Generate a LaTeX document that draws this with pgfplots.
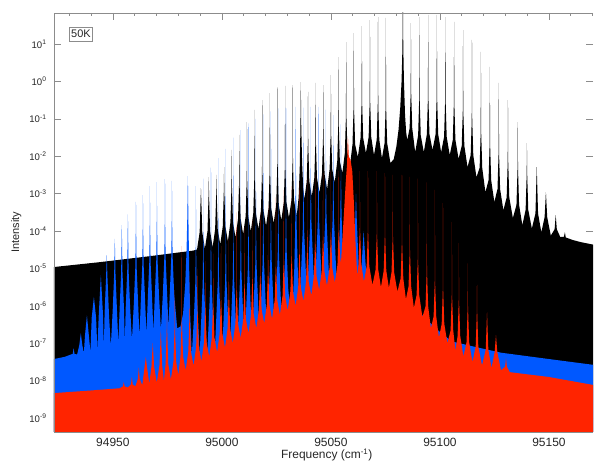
\documentclass[border=0pt]{standalone}
\usepackage{fontspec}
\setmainfont{Liberation Sans}
\usepackage{pgfplots}
\pgfplotsset{compat=1.18}
\definecolor{specblue}{RGB}{0,88,255}
\definecolor{specred}{RGB}{255,36,0}
\definecolor{axisgray}{RGB}{140,140,140}
\begin{document}
\begin{tikzpicture}
\useasboundingbox (-54bp,-30bp) rectangle (541bp,432bp);
\begin{axis}[
    at={(0,0)}, anchor=south west,
    scale only axis, width=539bp, height=419bp,
    xmin=94923, xmax=95170.2,
    ymin=-9.37, ymax=1.83,
    axis line style={draw=none},
    scaled x ticks=false,
    xtick={94950,95000,95050,95100,95150},
    xticklabels={94950,95000,95050,95100,95150},
    minor xtick={94930,94940,94960,94970,94980,94990,95010,95020,95030,95040,95060,95070,95080,95090,95110,95120,95130,95140,95160,95170},
    ytick={-9,-8,-7,-6,-5,-4,-3,-2,-1,0,1},
    yticklabels={10\textsuperscript{-9},10\textsuperscript{-8},10\textsuperscript{-7},10\textsuperscript{-6},10\textsuperscript{-5},10\textsuperscript{-4},10\textsuperscript{-3},10\textsuperscript{-2},10\textsuperscript{-1},10\textsuperscript{0},10\textsuperscript{1}},
    tick align=inside,
    major tick length=7bp, minor tick length=3.5bp,
    tick style={axisgray, line width=0.6pt},
    xticklabel style={font=\fontsize{12}{14}\selectfont, text=black!85, yshift=-3bp},
    yticklabel style={font=\fontsize{9.6}{11}\selectfont, text=black!85, xshift=-4bp},
    xlabel={Frequency (cm\textsuperscript{-1})},
    ylabel={Intensity},
    xlabel style={font=\fontsize{12}{14}\selectfont, text=black!85, at={(axis description cs:0.506,-0.055)}, anchor=center},
    ylabel style={font=\fontsize{11}{13}\selectfont, text=black!85, at={(axis description cs:-0.07,0.477)}, anchor=center},
]

% black spectrum (y = log10 intensity)
\addplot[fill=black, draw=none] coordinates {
(94923,-10) (94923,-4.96) (94944,-4.83) (94967,-4.67) (94987,-4.52) (94988.6,-4.49)
(94989.8,-4.03) (94990.4,-2.85) (94991.0,-4.03) (94992.2,-4.47)
(94993.4,-4.0) (94993.88,-3.05) (94994.0,-2.56) (94994.12,-3.05) (94994.6,-4.0) (94995.75,-4.43)
(94996.9,-3.95) (94997.38,-3.0) (94997.5,-2.50) (94997.62,-3.0) (94998.1,-3.95) (94999.25,-4.36)
(95000.4,-3.87) (95000.88,-2.92) (95001.0,-2.29) (95001.12,-2.92) (95001.6,-3.87) (95002.75,-4.27)
(95003.9,-3.77) (95004.38,-2.82) (95004.5,-1.83) (95004.62,-2.82) (95005.1,-3.77) (95006.25,-4.17)
(95007.4,-3.67) (95007.88,-2.72) (95008.0,-1.43) (95008.12,-2.72) (95008.6,-3.67) (95009.75,-4.08)
(95010.9,-3.60) (95011.38,-2.65) (95011.5,-1.09) (95011.62,-2.65) (95012.1,-3.60) (95013.25,-4.01)
(95014.4,-3.52) (95014.88,-2.57) (95015.0,-0.76) (95015.12,-2.57) (95015.6,-3.52) (95016.75,-3.94)
(95017.9,-3.45) (95018.38,-2.50) (95018.5,-0.50) (95018.62,-2.50) (95019.1,-3.45) (95020.25,-3.86)
(95021.4,-3.38) (95021.88,-2.43) (95022.0,-0.31) (95022.12,-2.43) (95022.6,-3.38) (95023.75,-3.79)
(95024.9,-3.30) (95025.38,-2.35) (95025.5,-0.15) (95025.62,-2.35) (95026.1,-3.30) (95027.25,-3.71)
(95028.4,-3.22) (95028.88,-2.27) (95029.0,-0.12) (95029.12,-2.27) (95029.6,-3.22) (95030.75,-3.64)
(95031.9,-3.17) (95032.38,-2.22) (95032.5,-0.10) (95032.62,-2.22) (95033.1,-3.17) (95034.3,-3.60)
(95035.2,-3.1) (95035.7,-2.3) (95036.0,-1.3) (95036.2,-0.02) (95036.4,-1.2) (95036.8,-2.2) (95037.3,-2.85) (95037.85,-3.15)
(95038.9,-2.67) (95039.38,-1.72) (95039.5,-0.28) (95039.62,-1.72) (95040.1,-2.67) (95041.25,-3.07)
(95042.4,-2.57) (95042.88,-1.62) (95043.0,-0.04) (95043.12,-1.62) (95043.6,-2.57) (95044.75,-2.97)
(95045.9,-2.48) (95046.38,-1.53) (95046.5,-0.10) (95046.62,-1.53) (95047.1,-2.48) (95048.25,-2.88)
(95049.4,-2.35) (95049.88,-1.40) (95050.0,0.17) (95050.12,-1.40) (95050.6,-2.35) (95051.75,-2.70)
(95052.9,-2.13) (95053.38,-1.18) (95053.5,0.65) (95053.62,-1.18) (95054.1,-2.13) (95055.25,-2.45)
(95056.4,-1.90) (95056.88,-0.95) (95057.0,1.05) (95057.12,-0.95) (95057.6,-1.90) (95058.75,-2.25)
(95059.9,-1.68) (95060.38,-0.73) (95060.5,1.29) (95060.62,-0.73) (95061.1,-1.68) (95062.35,-2.02)
(95063.6,-1.51) (95064.08,-0.56) (95064.2,1.48) (95064.32,-0.56) (95064.8,-1.51) (95066.05,-1.91)
(95067.3,-1.49) (95067.78,-0.54) (95067.9,1.64) (95068.02,-0.54) (95068.5,-1.49) (95069.75,-1.97)
(95071.0,-1.56) (95071.48,-0.61) (95071.6,1.72) (95071.72,-0.61) (95072.2,-1.56) (95073.4,-2.05)
(95074.6,-1.65) (95075.08,-0.70) (95075.2,1.70) (95075.32,-0.70) (95075.8,-1.65) (95077.3,-2.18)
(95078.8,-2.08) (95080.0,-1.75) (95081.0,-1.3) (95081.8,-0.7) (95082.4,0.0) (95082.8,0.9) (95083.0,2.4) (95083.2,0.9) (95083.5,0.0) (95084.0,-0.9) (95084.5,-1.35) (95085.0,-1.57)
(95086.1,-1.25) (95086.58,-0.30) (95086.7,1.56) (95086.82,-0.30) (95087.3,-1.25) (95088.65,-1.89)
(95090.0,-1.44) (95090.48,-0.49) (95090.6,1.72) (95090.72,-0.49) (95091.2,-1.44) (95092.6,-1.89)
(95094.0,-1.41) (95094.48,-0.46) (95094.6,1.78) (95094.72,-0.46) (95095.2,-1.41) (95096.6,-1.83)
(95098.0,-1.41) (95098.48,-0.46) (95098.6,1.78) (95098.72,-0.46) (95099.2,-1.41) (95100.55,-1.89)
(95101.9,-1.48) (95102.38,-0.53) (95102.5,1.72) (95102.62,-0.53) (95103.1,-1.48) (95104.5,-1.97)
(95105.9,-1.56) (95106.38,-0.61) (95106.5,1.59) (95106.62,-0.61) (95107.1,-1.56) (95108.55,-2.07)
(95110.0,-1.72) (95110.48,-0.77) (95110.6,1.37) (95110.72,-0.77) (95111.2,-1.72) (95112.65,-2.29)
(95114.1,-1.97) (95114.58,-1.02) (95114.7,1.11) (95114.82,-1.02) (95115.3,-1.97) (95116.75,-2.56)
(95118.2,-2.31) (95118.68,-1.36) (95118.8,0.79) (95118.92,-1.36) (95119.4,-2.31) (95120.85,-2.96)
(95122.3,-2.64) (95122.78,-1.69) (95122.9,0.39) (95123.02,-1.69) (95123.5,-2.64) (95124.95,-3.22)
(95126.4,-2.88) (95126.88,-1.93) (95127.0,-0.04) (95127.12,-1.93) (95127.6,-2.88) (95129.1,-3.44)
(95130.6,-3.10) (95131.08,-2.15) (95131.2,-0.50) (95131.32,-2.15) (95131.8,-3.10) (95133.45,-3.65)
(95135.1,-3.30) (95135.58,-2.35) (95135.7,-1.09) (95135.82,-2.35) (95136.3,-3.30) (95137.8,-3.84)
(95139.3,-3.43) (95139.78,-2.48) (95139.9,-1.65) (95140.02,-2.48) (95140.5,-3.43) (95142.15,-3.93)
(95143.8,-3.53) (95144.4,-2.29) (95145.0,-3.53) (95146.5,-4.03)
(95148.0,-3.63) (95148.6,-2.96) (95149.2,-3.63) (95150.85,-4.12)
(95152.6,-3.95) (95153.1,-3.57) (95153.6,-3.95) (95155.2,-4.16)
(95156.9,-4.15) (95157.3,-4.03) (95157.7,-4.17) (95161,-4.24) (95165,-4.30) (95171,-4.37) (95171,-10)
};

% blue spectrum
\addplot[fill=specblue, draw=none] coordinates {
(94923,-10) (94923,-7.42) (94928,-7.36)
(94931.6,-7.28) (94932.0,-7.13) (94932.4,-7.28) (94933.6,-7.30)
(94934.6,-7.05) (94935.3,-6.73) (94936.0,-7.05) (94936.7,-7.26)
(94937.2,-6.80) (94938.1,-6.25) (94939.0,-6.80) (94939.7,-7.23)
(94940.3,-6.31) (94941.3,-5.76) (94942.3,-6.31) (94942.9,-7.19)
(94943.5,-6.27) (94944.5,-5.18) (94945.5,-6.27) (94945.85,-7.14)
(94946.2,-6.21) (94946.9,-5.21) (94947.2,-4.64) (94947.5,-5.21) (94948.2,-6.21) (94949.05,-7.08)
(94949.9,-6.14) (94950.6,-5.14) (94950.9,-4.21) (94951.2,-5.14) (94951.9,-6.14) (94952.5,-7.01)
(94953.1,-6.08) (94953.8,-5.08) (94954.1,-3.84) (94954.4,-5.08) (94955.1,-6.08) (94955.5,-6.95)
(94955.9,-6.03) (94956.6,-5.03) (94956.9,-3.55) (94957.2,-5.03) (94957.9,-6.03) (94958.75,-6.90)
(94959.6,-5.96) (94960.3,-4.96) (94960.54,-3.86) (94960.6,-3.22) (94960.66,-3.86) (94960.9,-4.96) (94961.6,-5.96) (94962.2,-6.82)
(94962.8,-5.89) (94963.5,-4.89) (94963.74,-3.79) (94963.8,-3.04) (94963.86,-3.79) (94964.1,-4.89) (94964.8,-5.89) (94965.4,-6.76)
(94966.0,-5.83) (94966.7,-4.83) (94966.94,-3.73) (94967.0,-2.80) (94967.06,-3.73) (94967.3,-4.83) (94968.0,-5.83) (94968.6,-6.70)
(94969.2,-5.78) (94969.9,-4.78) (94970.14,-3.68) (94970.2,-2.69) (94970.26,-3.68) (94970.5,-4.78) (94971.2,-5.78) (94972.05,-6.64)
(94972.9,-5.71) (94973.6,-4.71) (94973.84,-3.61) (94973.9,-2.61) (94973.96,-3.61) (94974.2,-4.71) (94974.9,-5.71) (94975.5,-6.58)
(94976.1,-5.67) (94976.8,-4.67) (94977.04,-3.57) (94977.1,-2.66) (94977.16,-3.57) (94977.4,-4.67) (94978.1,-5.67) (94979.5,-6.60)
(94981.0,-6.55) (94982.2,-6.2) (94983.2,-5.4) (94983.8,-4.5) (94984.15,-3.6) (94984.4,-2.53) (94984.65,-3.7) (94985.0,-5.0) (94985.5,-6.3) (94986.2,-7.30)
(94987.1,-6.4) (94987.8,-5.4) (94988.04,-4.3) (94988.1,-2.8) (94988.16,-4.3) (94988.4,-5.4) (94989.1,-6.4) (94989.8,-7.30)
(94990.5,-6.4) (94991.2,-5.4) (94991.44,-4.3) (94991.5,-2.6) (94991.56,-4.3) (94991.8,-5.4) (94992.5,-6.4) (94993.25,-7.29)
(94994.0,-6.38) (94994.7,-5.38) (94994.94,-4.28) (94995.0,-2.3) (94995.06,-4.28) (94995.3,-5.38) (94996.0,-6.38) (94996.7,-7.27)
(94997.4,-6.36) (94998.1,-5.36) (94998.34,-4.26) (94998.4,-2.05) (94998.46,-4.26) (94998.7,-5.36) (94999.4,-6.36) (95000.1,-7.25)
(95000.8,-6.33) (95001.5,-5.33) (95001.74,-4.23) (95001.8,-1.8) (95001.86,-4.23) (95002.1,-5.33) (95002.8,-6.33) (95003.55,-7.20)
(95004.3,-6.27) (95005.0,-5.27) (95005.24,-4.17) (95005.3,-1.5) (95005.36,-4.17) (95005.6,-5.27) (95006.3,-6.27) (95007.0,-7.12)
(95007.7,-6.15) (95008.4,-5.15) (95008.64,-4.05) (95008.7,-1.3) (95008.76,-4.05) (95009.0,-5.15) (95009.7,-6.15) (95010.45,-6.98)
(95011.2,-6.0) (95011.9,-5.0) (95012.14,-3.9) (95012.2,-1.12) (95012.26,-3.9) (95012.5,-5.0) (95013.2,-6.0) (95013.9,-6.85)
(95014.6,-5.91) (95015.3,-4.91) (95015.54,-3.81) (95015.6,-1.0) (95015.66,-3.81) (95015.9,-4.91) (95016.6,-5.91) (95017.3,-6.77)
(95018.0,-5.82) (95018.7,-4.82) (95018.94,-3.72) (95019.0,-0.88) (95019.06,-3.72) (95019.3,-4.82) (95020.0,-5.82) (95020.75,-6.68)
(95021.5,-5.74) (95022.2,-4.74) (95022.44,-3.64) (95022.5,-0.8) (95022.56,-3.64) (95022.8,-4.74) (95023.5,-5.74) (95024.2,-6.60)
(95024.9,-5.65) (95025.6,-4.65) (95025.84,-3.55) (95025.9,-0.72) (95025.96,-3.55) (95026.2,-4.65) (95026.9,-5.65) (95027.65,-6.50)
(95028.4,-5.52) (95029.1,-4.52) (95029.34,-3.42) (95029.4,-0.70) (95029.46,-3.42) (95029.7,-4.52) (95030.4,-5.52) (95031.6,-6.30)
(95032.6,-5.8) (95033.2,-5.0) (95033.6,-4.0) (95033.8,-2.8) (95033.9,-0.68) (95034.0,-2.8) (95034.3,-3.9) (95034.8,-5.0) (95035.4,-5.7) (95035.65,-5.90)
(95036.4,-4.95) (95037.1,-3.95) (95037.34,-2.85) (95037.4,-0.70) (95037.46,-2.85) (95037.7,-3.95) (95038.4,-4.95) (95039.1,-5.78)
(95039.8,-4.8) (95040.5,-3.8) (95040.74,-2.7) (95040.8,-0.68) (95040.86,-2.7) (95041.1,-3.8) (95041.8,-4.8) (95042.55,-5.65)
(95043.3,-4.72) (95044.0,-3.72) (95044.24,-2.62) (95044.3,-0.68) (95044.36,-2.62) (95044.6,-3.72) (95045.3,-4.72) (95046.0,-5.60)
(95046.7,-4.67) (95047.4,-3.67) (95047.64,-2.57) (95047.7,-0.75) (95047.76,-2.57) (95048.0,-3.67) (95048.7,-4.67) (95049.4,-5.56)
(95050.1,-4.65) (95050.8,-3.65) (95051.04,-2.55) (95051.1,-0.9) (95051.16,-2.55) (95051.4,-3.65) (95052.1,-4.65) (95052.85,-5.53)
(95053.6,-4.62) (95054.3,-3.62) (95054.54,-2.52) (95054.6,-1.15) (95054.66,-2.52) (95054.9,-3.62) (95055.6,-4.62) (95056.3,-5.50)
(95057.0,-4.6) (95057.7,-3.6) (95057.94,-2.5) (95058.0,-2.0) (95058.06,-2.5) (95058.3,-3.6) (95059.0,-4.6) (95059.75,-5.50)
(95060.5,-4.6) (95061.2,-3.6) (95061.5,-3.0) (95061.8,-3.6) (95062.5,-4.6) (95063.25,-5.51)
(95064.2,-4.8) (95065.0,-4.0) (95065.8,-4.8) (95066.8,-5.55)
(95070,-5.60) (95080,-5.70) (95091,-6.20) (95100,-6.70) (95105.5,-6.95) (95115,-7.08) (95128,-7.25) (95150,-7.42) (95171,-7.58) (95171,-10)
};

% red spectrum
\addplot[fill=specred, draw=none] coordinates {
(94923,-10) (94923,-8.33) (94940,-8.26) (94953.2,-8.20)
(94954.6,-8.15) (94955.0,-8.04) (94955.4,-8.15) (94956.85,-8.18)
(94958.3,-8.10) (94958.7,-7.90) (94959.1,-8.10) (94960.3,-8.15)
(94961.5,-7.95) (94961.9,-7.64) (94962.3,-7.95) (94963.5,-8.12)
(94964.5,-7.65) (94965.1,-7.37) (94965.7,-7.65) (94966.7,-8.08)
(94967.7,-7.62) (94968.3,-6.99) (94968.9,-7.62) (94970.15,-8.05)
(94971.4,-7.58) (94972.0,-6.65) (94972.6,-7.58) (94973.4,-8.01)
(94974.2,-7.55) (94974.73,-6.60) (94974.8,-6.11) (94974.87,-6.60) (94975.4,-7.55) (94976.6,-7.97)
(94977.8,-7.48) (94978.33,-6.53) (94978.4,-5.58) (94978.47,-6.53) (94979.0,-7.48) (94980.0,-7.85)
(94981.0,-7.35) (94981.53,-6.40) (94981.6,-4.40) (94981.67,-6.40) (94982.2,-7.35) (94983.4,-7.72)
(94984.6,-7.22) (94985.13,-6.27) (94985.2,-5.20) (94985.27,-6.27) (94985.8,-7.22) (94987.0,-7.60)
(94988.2,-7.10) (94988.73,-6.15) (94988.8,-5.00) (94988.87,-6.15) (94989.4,-7.10) (94990.6,-7.48)
(94991.8,-6.98) (94992.33,-6.03) (94992.4,-4.80) (94992.47,-6.03) (94993.0,-6.98) (94994.2,-7.36)
(94995.4,-6.85) (94995.93,-5.90) (94996.0,-4.60) (94996.07,-5.90) (94996.6,-6.85) (94997.8,-7.24)
(94999.0,-6.73) (94999.53,-5.78) (94999.6,-4.40) (94999.67,-5.78) (95000.2,-6.73) (95001.4,-7.12)
(95002.6,-6.61) (95003.13,-5.66) (95003.2,-4.20) (95003.27,-5.66) (95003.8,-6.61) (95005.0,-7.00)
(95006.2,-6.48) (95006.73,-5.53) (95006.8,-3.50) (95006.87,-5.53) (95007.4,-6.48) (95008.6,-6.86)
(95009.8,-6.35) (95010.33,-5.40) (95010.4,-3.90) (95010.47,-5.40) (95011.0,-6.35) (95012.2,-6.73)
(95013.4,-6.22) (95013.93,-5.27) (95014.0,-3.70) (95014.07,-5.27) (95014.6,-6.22) (95015.8,-6.60)
(95017.0,-6.09) (95017.53,-5.14) (95017.6,-3.50) (95017.67,-5.14) (95018.2,-6.09) (95019.4,-6.47)
(95020.6,-5.97) (95021.13,-5.02) (95021.2,-3.30) (95021.27,-5.02) (95021.8,-5.97) (95023.0,-6.35)
(95024.2,-5.85) (95024.73,-4.90) (95024.8,-3.10) (95024.87,-4.90) (95025.4,-5.85) (95026.6,-6.24)
(95027.8,-5.73) (95028.33,-4.78) (95028.4,-2.90) (95028.47,-4.78) (95029.0,-5.73) (95030.2,-6.12)
(95031.4,-5.61) (95031.93,-4.66) (95032.0,-2.80) (95032.07,-4.66) (95032.6,-5.61) (95033.8,-6.00)
(95035.0,-5.50) (95035.53,-4.55) (95035.6,-2.70) (95035.67,-4.55) (95036.2,-5.50) (95037.4,-5.87)
(95038.6,-5.35) (95039.13,-4.40) (95039.2,-2.60) (95039.27,-4.40) (95039.8,-5.35) (95041.0,-5.72)
(95042.2,-5.20) (95042.73,-4.25) (95042.8,-2.50) (95042.87,-4.25) (95043.4,-5.20) (95044.6,-5.57)
(95045.8,-5.07) (95046.33,-4.12) (95046.4,-2.45) (95046.47,-4.12) (95047.0,-5.07) (95048.2,-5.46)
(95049.4,-4.97) (95049.93,-4.02) (95050.0,-2.40) (95050.07,-4.02) (95050.6,-4.97) (95051.8,-5.38)
(95053.0,-4.90) (95053.53,-3.95) (95053.6,-2.40) (95053.67,-3.95) (95054.2,-4.70) (95054.6,-4.85)
(95055.2,-4.30) (95056.0,-3.50) (95056.8,-2.70) (95057.4,-2.20) (95057.8,-1.50) (95058.2,-2.00) (95059.0,-2.10) (95059.8,-2.40) (95060.5,-3.20) (95061.2,-4.20) (95061.8,-4.90) (95062.2,-5.20)
(95062.7,-4.86) (95063.23,-3.91) (95063.3,-2.40) (95063.37,-3.91) (95063.9,-4.86) (95065.15,-5.35)
(95066.4,-4.94) (95066.93,-3.99) (95067.0,-2.40) (95067.07,-3.99) (95067.6,-4.94) (95069.05,-5.44)
(95070.5,-5.03) (95071.03,-4.08) (95071.1,-2.40) (95071.17,-4.08) (95071.7,-5.03) (95072.95,-5.50)
(95074.2,-5.06) (95074.73,-4.11) (95074.8,-2.45) (95074.87,-4.11) (95075.4,-5.06) (95076.6,-5.52)
(95077.8,-5.10) (95078.33,-4.15) (95078.4,-2.50) (95078.47,-4.15) (95079.0,-5.10) (95080.5,-5.62)
(95082.0,-5.26) (95082.53,-4.31) (95082.6,-2.50) (95082.67,-4.31) (95083.2,-5.26) (95084.4,-5.82)
(95085.6,-5.48) (95086.13,-4.53) (95086.2,-2.55) (95086.27,-4.53) (95086.8,-5.48) (95088.05,-6.05)
(95089.3,-5.71) (95089.83,-4.76) (95089.9,-2.60) (95089.97,-4.76) (95090.5,-5.71) (95091.95,-6.30)
(95093.4,-6.01) (95093.93,-5.06) (95094.0,-2.70) (95094.07,-5.06) (95094.6,-6.01) (95095.85,-6.60)
(95097.1,-6.28) (95097.63,-5.33) (95097.7,-2.90) (95097.77,-5.33) (95098.3,-6.28) (95099.55,-6.85)
(95100.8,-6.48) (95101.33,-5.53) (95101.4,-3.25) (95101.47,-5.53) (95102.0,-6.48) (95103.45,-7.00)
(95104.9,-6.65) (95105.43,-5.70) (95105.5,-3.76) (95105.57,-5.70) (95106.1,-6.65) (95107.1,-7.20)
(95108.1,-6.80) (95108.63,-5.85) (95108.7,-4.32) (95108.77,-5.85) (95109.3,-6.80) (95110.75,-7.35)
(95112.2,-6.97) (95112.73,-6.02) (95112.8,-4.86) (95112.87,-6.02) (95113.4,-6.97) (95114.9,-7.50)
(95116.4,-7.09) (95116.93,-6.14) (95117.0,-5.44) (95117.07,-6.14) (95117.6,-7.09) (95119.3,-7.59)
(95121.0,-7.17) (95121.6,-6.17) (95122.2,-7.17) (95123.65,-7.66)
(95125.1,-7.23) (95125.7,-6.78) (95126.3,-7.23) (95128.0,-7.72)
(95129.9,-7.62) (95130.3,-7.40) (95130.7,-7.62) (95132,-7.77) (95150,-7.90) (95171,-8.12) (95171,-10)
};

\node[draw=axisgray, line width=0.6pt, fill=white, inner xsep=2bp, inner ysep=3bp,
      font=\fontsize{11}{13}\selectfont, text=black!85] at (rel axis cs:0.050,0.950) {50K};
\end{axis}
% axis lines on top of the filled spectra (no right-hand line, as in the original)
\draw[axisgray, line width=0.8pt] (539bp,419bp) -- (0,419bp) -- (0,0) -- (539bp,0);
\end{tikzpicture}
\end{document}
